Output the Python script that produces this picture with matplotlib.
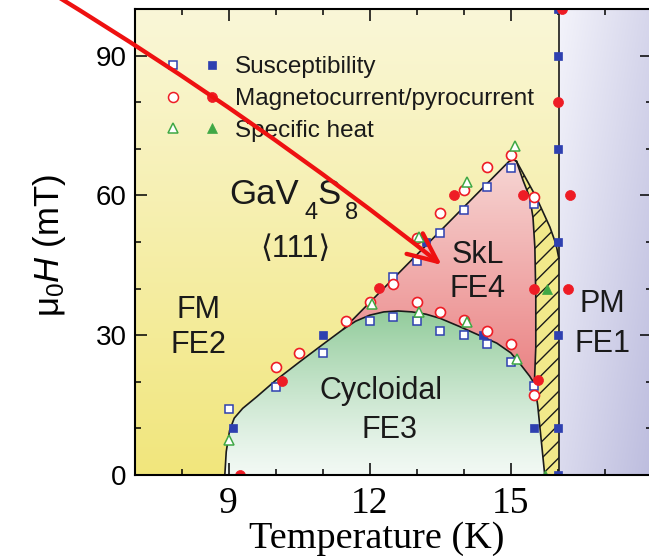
import numpy as np
import matplotlib
matplotlib.use("Agg")
import matplotlib.pyplot as plt
from matplotlib.patches import Polygon, FancyArrowPatch, ArrowStyle
from matplotlib.colors import to_rgb
from matplotlib.ticker import MultipleLocator

plt.rcParams['font.family'] = ['Liberation Sans', 'DejaVu Sans']
plt.rcParams['mathtext.fontset'] = 'custom'
plt.rcParams['mathtext.rm'] = 'Liberation Sans'
plt.rcParams['mathtext.it'] = 'Liberation Sans:italic'
plt.rcParams['mathtext.bf'] = 'Liberation Sans:bold'
plt.rcParams['hatch.linewidth'] = 1.0

# ---------------- measured transition points (T in K, mu0H in mT) ----------------
# susceptibility
sus_open_T = [9.0, 10.0, 11.0, 12.0, 12.5, 13.0, 13.5, 14.0, 14.5, 15.0, 15.5,
              12.5, 13.0, 13.5, 14.0, 14.5, 15.0, 15.5]
sus_open_H = [14.1, 18.9, 26.1, 33.0, 33.9, 33.0, 30.9, 30.1, 28.1, 24.3, 19.1,
              42.4, 45.9, 51.9, 56.9, 61.9, 65.9, 58.2]
sus_fill_T = [9.1, 11.0, 13.2, 14.4, 15.5, 16.0, 16.0, 16.0, 16.0, 16.0, 16.0, 16.0]
sus_fill_H = [10.0, 30.0, 50.0, 30.0, 10.0, 0.0, 10.0, 30.0, 50.0, 70.0, 90.0, 100.0]

# magnetocurrent / pyrocurrent
mc_open_T = [10.0, 10.5, 11.5, 12.0, 12.5, 13.0, 13.5, 14.0, 14.5, 15.0,
             13.0, 13.5, 14.0, 14.5, 15.0, 15.5, 15.5]
mc_open_H = [23.1, 26.2, 33.1, 37.2, 40.9, 50.9, 56.2, 61.2, 66.2, 68.6,
             37.1, 35.0, 33.2, 30.9, 28.1, 17.1, 59.6]
mc_fill_T = [9.25, 10.13, 12.2, 13.8, 15.26, 15.5, 15.58, 16.0, 16.22, 16.25, 16.08]
mc_fill_H = [0.0, 20.1, 40.1, 60.0, 60.0, 40.0, 20.4, 80.0, 40.0, 60.0, 100.0]

# specific heat
sh_open_T = [9.0, 12.05, 13.05, 14.06, 15.08, 13.05, 14.06, 15.12]
sh_open_H = [7.5, 36.6, 51.1, 62.9, 70.5, 35.0, 32.9, 25.0]
sh_fill_T = [15.76, 15.72]
sh_fill_H = [40.0, 0.0]

# ---------------- phase boundaries ----------------
fe3_T = [8.92, 8.95, 9.02, 9.12, 9.3, 9.6, 10.0, 10.5, 11.0, 11.44, 11.7, 12.0, 12.3,
         12.6, 12.9, 13.2, 13.5, 13.9, 14.3, 14.7, 15.0, 15.2, 15.4, 15.5, 15.57,
         15.63, 15.68, 15.72]
fe3_H = [0.0, 5.0, 9.5, 12.2, 14.3, 16.8, 20.3, 24.2, 28.0, 31.3, 33.0, 34.3, 35.0,
         35.2, 35.0, 34.5, 33.6, 31.9, 30.1, 28.3, 26.2, 23.8, 21.2, 19.6, 15.0,
         9.0, 4.0, 0.0]
skl_left_T = [11.44, 14.95, 15.05, 15.12]
skl_left_H = [31.3, 67.2, 67.7, 67.3]
skl_right_T = [15.12, 15.26, 15.4, 15.47, 15.51, 15.53, 15.53, 15.5]
skl_right_H = [67.3, 63.2, 59.6, 55.3, 48.9, 38.2, 27.5, 19.6]
mix_right_T = [15.12, 15.3, 15.54, 15.83, 15.96, 16.02]
mix_right_H = [67.3, 64.0, 59.6, 53.2, 49.5, 46.5]
T_c = 16.02

W, H = 649, 556
fig = plt.figure(figsize=(W / 100, H / 100), dpi=100)
ax = fig.add_axes([134.5 / W, 1 - 475 / H, (652 - 134.5) / W, (475 - 9) / H])

# ---------------- colour-graded phase regions ----------------
Tg = np.linspace(7, 18, 500)
Hg = np.linspace(0, 100, 500)
TT, HH = np.meshgrid(Tg, Hg)


def blend(c0, c1, t):
    c0 = np.array(to_rgb(c0))
    c1 = np.array(to_rgb(c1))
    t = np.clip(t, 0, 1)[..., None]
    return c0 * (1 - t) + c1 * t


def shade(rgb, verts=None, z=0.5):
    im = ax.imshow(rgb, origin='lower', extent=(7, 18, 0, 100), aspect='auto',
                   interpolation='bilinear', zorder=z)
    if verts is not None:
        im.set_clip_path(Polygon(verts, closed=True, transform=ax.transData))
    return im


# FM / FE2 background
shade(blend('#f1e67c', '#faf7d8', HH / 100), z=0.2)

# cycloidal FE3 dome
dome = list(zip(fe3_T, fe3_H))
shade(blend('#f2f9f4', '#93cc9c', (HH / 35) ** 1.2), dome, z=0.3)

# SkL FE4 pocket
i0, i1 = 9, 23
skl = (list(zip(skl_left_T, skl_left_H)) + list(zip(skl_right_T, skl_right_H))[1:]
       + list(zip(fe3_T[i0:i1 + 1], fe3_H[i0:i1 + 1]))[::-1][1:])
shade(blend('#ea7f80', '#f7dad8', (HH - 18) / 52), skl, z=0.3)

# PM / FE1
pm = [(T_c, 0), (18, 0), (18, 100), (T_c, 100)]
shade(blend('#f4f4fb', '#bcbcde', 0.55 * (TT - 16) / 2 + 0.45 * (1 - HH / 100)), pm, z=0.3)

# coexistence strip (hatched)
mix = (list(zip(mix_right_T, mix_right_H)) + [(T_c, 0), (fe3_T[-1], 0)]
       + list(zip(fe3_T[i1:], fe3_H[i1:]))[::-1][1:]
       + list(zip(skl_right_T, skl_right_H))[::-1][1:])
ax.add_patch(Polygon(mix, closed=True, facecolor='#f2e98a', edgecolor='#1a1a1a',
                     linewidth=0, hatch='//', zorder=0.4))

# boundary lines
lkw = dict(color='#1a1a1a', lw=1.2, zorder=3)
ax.plot(fe3_T, fe3_H, **lkw)
ax.plot(skl_left_T, skl_left_H, **lkw)
ax.plot(skl_right_T, skl_right_H, **lkw)
ax.plot(mix_right_T, mix_right_H, **lkw)
ax.plot([T_c, T_c], [0, 100], **lkw)

blue, red, green = '#2e40b0', '#ee1c25', '#3fa845'
ax.plot(sus_open_T, sus_open_H, ls='none', marker='s', ms=6.3, mfc='white', mec=blue, mew=1.1, zorder=4)
ax.plot(sus_fill_T, sus_fill_H, ls='none', marker='s', ms=6.3, mfc=blue, mec=blue, mew=0.5, zorder=4)
ax.plot(mc_open_T, mc_open_H, ls='none', marker='o', ms=7.2, mfc='white', mec=red, mew=1.2, zorder=5)
ax.plot(mc_fill_T, mc_fill_H, ls='none', marker='o', ms=7.2, mfc=red, mec=red, mew=0.5, zorder=5)
ax.plot(sh_open_T, sh_open_H, ls='none', marker='^', ms=7.5, mfc='white', mec=green, mew=1.1, zorder=6)
ax.plot(sh_fill_T, sh_fill_H, ls='none', marker='^', ms=7.5, mfc=green, mec=green, mew=0.5, zorder=6)

# legend rows: open / filled symbol + label
def ax_frac(px, py):
    return (px - 134.5) / 517.5, (475 - py) / 466.0

rows = [('s', blue, 6.3, 'Susceptibility'),
        ('o', red, 7.2, 'Magnetocurrent/pyrocurrent'),
        ('^', green, 7.5, 'Specific heat')]
for k, (m, c, s, lab) in enumerate(rows):
    py = 65 + 31.7 * k
    x0, y0 = ax_frac(173, py)
    x1, _ = ax_frac(211.7, py)
    ax.plot([x0], [y0], marker=m, ms=s, mfc='white', mec=c, mew=1.1,
            transform=ax.transAxes, zorder=6)
    ax.plot([x1], [y0], marker=m, ms=s, mfc=c, mec=c, mew=0.5,
            transform=ax.transAxes, zorder=6)
    xt, yt = ax_frac(235, py + 8.3)
    ax.text(xt, yt, lab, transform=ax.transAxes, fontsize=17.5, color='#1a1a1a',
            ha='left', va='baseline', zorder=7)

# phase labels
ink = '#1a1a1a'
tkw = dict(color=ink, ha='center', va='baseline', zorder=7)
# compound formula with large, low-set subscripts
ax.text(9.02, 58.2, 'GaV', fontsize=25, color=ink, ha='left', va='baseline', zorder=7)
ax.text(10.76, 54.9, '4', fontsize=17, **tkw)
ax.text(10.88, 58.2, 'S', fontsize=25, color=ink, ha='left', va='baseline', zorder=7)
ax.text(11.62, 54.9, '8', fontsize=17, **tkw)
ax.text(10.41, 48.6, '⟨111⟩', fontsize=22, color=ink, ha='center', va='center',
        family=['Liberation Sans', 'DejaVu Sans'], zorder=7)
ax.text(8.35, 33.6, 'FM', fontsize=22, **tkw)
ax.text(8.35, 26.1, 'FE2', fontsize=22, **tkw)
ax.text(14.30, 45.6, 'SkL', fontsize=22, **tkw)
ax.text(14.30, 38.1, 'FE4', fontsize=22, **tkw)
ax.text(12.25, 16.3, 'Cycloidal', fontsize=22, **tkw)
ax.text(12.41, 7.9, 'FE3', fontsize=22, **tkw)
ax.text(16.95, 35.0, 'PM', fontsize=22, **tkw)
ax.text(16.95, 26.4, 'FE1', fontsize=22, **tkw)

# axes styling
ax.set_xlim(7, 18)
ax.set_ylim(0, 100)
ax.set_xticks([9, 12, 15, 18])
ax.set_xticklabels(['9', '12', '15', ''])
ax.xaxis.set_minor_locator(MultipleLocator(1))
ax.set_yticks([0, 30, 60, 90])
ax.yaxis.set_minor_locator(MultipleLocator(10))
ax.tick_params(which='major', direction='in', length=8.6, width=1.1, top=True, right=True)
ax.tick_params(which='minor', direction='in', length=4.3, width=1.1, top=True, right=True)
ax.tick_params(axis='x', which='major', pad=8, labelsize=27)
ax.tick_params(axis='y', which='major', pad=5.5, labelsize=20)
for lab in ax.get_xticklabels():
    lab.set_fontfamily('Liberation Serif')
for sp in ax.spines.values():
    sp.set_linewidth(1.5)
    sp.set_zorder(8)

fig.text(376.6 / W, 1 - 547.5 / H, 'Temperature (K)', family='Liberation Serif',
         fontsize=27.5, ha='center', va='baseline')
fig.text(49 / W, 1 - 246 / H, r'$\mathrm{\mu}_\mathrm{0}\mathit{H}$ (mT)', fontsize=25,
         rotation=90, ha='center', va='center')

# red pointer arrow
arrow = FancyArrowPatch((55 / W, 1 + 5 / H), (441.7 / W, 1 - 265 / H),
                        transform=fig.transFigure, connectionstyle='arc3,rad=-0.03',
                        arrowstyle=ArrowStyle('->', head_length=21, head_width=9.4),
                        mutation_scale=1, color='#ee1111', lw=3.1,
                        shrinkA=0, shrinkB=0, zorder=20)
fig.add_artist(arrow)

fig.savefig('out.png', dpi=100)
